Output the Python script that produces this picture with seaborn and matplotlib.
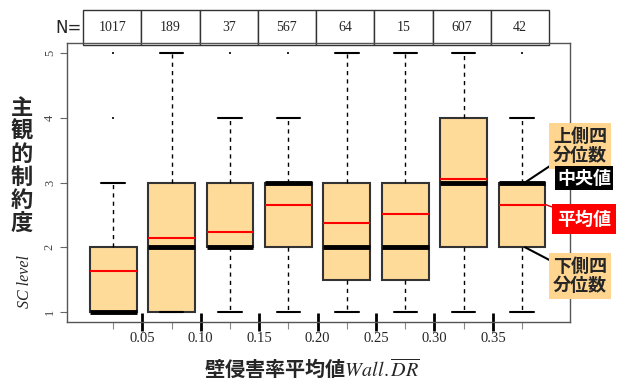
import matplotlib
matplotlib.use("Agg")
import matplotlib.pyplot as plt
import seaborn as sns

# Values
n_counts = [1017, 189, 37, 567, 64, 15, 607, 42]
q1 = [1, 1, 2, 2, 1.5, 1.5, 2, 2]
medians = [1, 2, 2, 3, 2, 2, 3, 3]
q3 = [2, 3, 3, 3, 3, 3, 4, 3]
whisker_low = [1, 1, 1, 1, 1, 1, 1, 1]
whisker_high = [3, 5, 4, 4, 5, 5, 5, 4]
means = [1.64, 2.14, 2.23, 2.65, 2.38, 2.52, 3.05, 2.66]
outlier_group = [0, 0, 2, 3, 7]
outlier_value = [4, 5, 5, 5, 5]
x_labels = ["0.05", "0.10", "0.15", "0.20", "0.25", "0.30", "0.35"]
y_ticks = [1, 2, 3, 4, 5]

sns.set_style("white")
plt.rcParams['font.family'] = ['Noto Sans CJK JP', 'DejaVu Sans']
plt.rcParams['mathtext.fontset'] = 'stix'

W, H = 624, 381
fig = plt.figure(figsize=(W / 100, H / 100), dpi=100)
ax = fig.add_axes([67 / W, 1 - 322 / H, 503 / W, 279 / H])

stats = []
for i in range(len(n_counts)):
    stats.append(dict(q1=q1[i], med=medians[i], q3=q3[i], whislo=whisker_low[i],
                      whishi=whisker_high[i], mean=means[i], fliers=[]))

ax.bxp(stats, positions=range(len(stats)), widths=0.8, patch_artist=True,
       showmeans=True, meanline=True, showfliers=False, capwidths=0.4,
       boxprops=dict(facecolor="#FFDB99", edgecolor="#333333", linewidth=1.5),
       medianprops=dict(color="black", linewidth=3.5),
       meanprops=dict(color="red", linestyle="-", linewidth=1.5),
       whiskerprops=dict(color="black", linestyle=(0, (3, 3)), linewidth=1),
       capprops=dict(color="black", linewidth=1.5))

# outliers (tiny tick marks)
sns.scatterplot(x=outlier_group, y=outlier_value, marker="|", s=4, color="black",
                linewidth=1.2, ax=ax, zorder=5)

ax.set_xlim(-0.79, 7.82)
ax.set_ylim(0.846, 5.154)

for s in ax.spines.values():
    s.set_visible(True)
    s.set_color("#555555")
    s.set_linewidth(1)

# x axis: boundaries labelled, box centres with small ticks
ax.set_xticks([i + 0.5 for i in range(len(x_labels))])
ax.set_xticklabels(x_labels, family="Liberation Serif", fontsize=10.5)
ax.set_xticks(range(len(n_counts)), minor=True)
ax.tick_params(axis="x", which="major", bottom=True, direction="inout", length=13,
               width=2, color="black", pad=1)
ax.tick_params(axis="x", which="minor", bottom=True, direction="out", length=5,
               width=0.8, color="#888888")

ax.set_yticks(y_ticks)
ax.set_yticklabels([str(v) for v in y_ticks], rotation=90, va="center",
                   family="Liberation Serif", fontsize=9, color="#444444")
ax.tick_params(axis="y", left=True, length=5, width=0.8, color="#666666", pad=3)
ax.set_xlabel("")
ax.set_ylabel("")

# N table on top
tbl = ax.table(cellText=[[str(n) for n in n_counts]], cellLoc="center",
               bbox=[16 / 503, 0.993, 466 / 503, 0.125])
tbl.auto_set_font_size(False)
for cell in tbl.get_celld().values():
    cell.set_edgecolor("#333333")
    cell.set_linewidth(1)
    cell.get_text().set_fontfamily("Liberation Serif")
    cell.get_text().set_fontsize(10)
fig.text(69 / W, 1 - 28 / H, "N=", fontsize=12, family="DejaVu Sans",
         ha="center", va="center")

# axis titles
fig.text(22 / W, 1 - 166 / H, "主\n観\n的\n制\n約\n度", fontsize=16, fontweight="bold",
         ha="center", va="center", linespacing=1.0)
fig.text(25 / W, 1 - 282 / H, "SC level", rotation=90, family="Liberation Serif",
         style="italic", fontsize=11.5, ha="center", va="center")
fig.text(312 / W, 1 - 368 / H, "壁侵害率平均値$Wall.\\overline{DR}$", fontsize=14.5,
         fontweight="bold", ha="center", va="center")

# legend-like annotations for the last box
orange = "#FFD590"
last = len(n_counts) - 1
ax.annotate("上側四\n分位数", xy=(last + 0.05, q3[last]), xycoords="data",
            xytext=(580, H - 146), textcoords="figure pixels", ha="center", va="center",
            fontsize=13, fontweight="bold", linespacing=1.0, annotation_clip=False,
            bbox=dict(boxstyle="square,pad=0.2", fc=orange, ec="none"),
            arrowprops=dict(arrowstyle="-", color="black", lw=1.5, shrinkA=0, shrinkB=0),
            zorder=10)
ax.annotate("中央値", xy=(584, H - 178), xycoords="figure pixels", ha="center",
            va="center", fontsize=13, fontweight="bold", color="white",
            annotation_clip=False,
            bbox=dict(boxstyle="square,pad=0.12", fc="black", ec="none"), zorder=10)
ax.annotate("平均値", xy=(last + 0.4, means[last]), xycoords="data",
            xytext=(584, H - 219), textcoords="figure pixels", ha="center", va="center",
            fontsize=13, fontweight="bold", color="white", annotation_clip=False,
            bbox=dict(boxstyle="square,pad=0.3", fc="#FF0000", ec="none"),
            arrowprops=dict(arrowstyle="-", color="#CC0000", lw=1, shrinkA=0, shrinkB=0),
            zorder=10)
ax.annotate("下側四\n分位数", xy=(last + 0.05, q1[last]), xycoords="data",
            xytext=(580, H - 276), textcoords="figure pixels", ha="center", va="center",
            fontsize=13, fontweight="bold", linespacing=1.0, annotation_clip=False,
            bbox=dict(boxstyle="square,pad=0.2", fc=orange, ec="none"),
            arrowprops=dict(arrowstyle="-", color="black", lw=1.5, shrinkA=0, shrinkB=0),
            zorder=10)

fig.savefig("out.png", dpi=100)
